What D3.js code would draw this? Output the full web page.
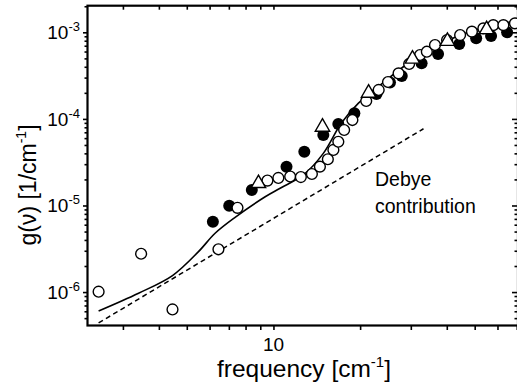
<!DOCTYPE html>
<html><head><meta charset="utf-8">
<script src="https://cdn.jsdelivr.net/npm/d3@7"></script>
<style>body{margin:0;background:#fff}svg{display:block}text{font-family:"Liberation Sans",Arial,sans-serif;fill:#000}</style>
</head><body>
<script>
// open circles
const openX = [2.47,3.47,4.46,6.44,7.50,9.53,10.4,11.43,12.45,13.6,14.5,15.45,16.15,16.8,17.6,18.8,21.0,23.2,25.0,27.2,29.6,32.3,34.1,36.4,40.1,44.5,48.9,53.6,58.0,62.9,69.0];
const openY = [1.01e-6,2.77e-6,6.3e-7,3.12e-6,9.4e-6,1.94e-5,2.08e-5,2.16e-5,2.13e-5,2.31e-5,2.81e-5,3.42e-5,4.38e-5,5.45e-5,7.44e-5,9.7e-5,1.61e-4,2.16e-4,2.67e-4,3.36e-4,4.31e-4,5.47e-4,5.97e-4,7.13e-4,8.15e-4,9.3e-4,1.02e-3,1.11e-3,1.21e-3,1.21e-3,1.27e-3];
// filled circles
const filledX = [6.16,7.02,8.41,11.1,12.8,14.9,16.8,19.1,22.8,25.4,27.9,32.7,37.3,44.2,50.6,57.0,64.8];
const filledY = [6.5e-6,9.95e-6,1.51e-5,2.81e-5,4.18e-5,6.52e-5,8.73e-5,1.16e-4,1.94e-4,2.63e-4,3.13e-4,4.39e-4,5.61e-4,7.33e-4,8.53e-4,9.06e-4,1.0e-3];
// open triangles
const triX = [8.87,14.8,21.4,30.4,40.2,55.0];
const triY = [1.8e-5,8.06e-5,1.99e-4,4.92e-4,7.9e-4,1.08e-3];
// model curve (solid)
const fitX = [2.47,3.40,4.46,5.49,6.27,7.36,9.36,10.55,12.7,14.9,17.2,19.7,23.1,29.4,38.3,50.0,67.0];
const fitY = [6.05e-7,9.7e-7,1.55e-6,2.93e-6,4.78e-6,7.3e-6,1.26e-5,1.58e-5,2.25e-5,4.0e-5,8.9e-5,1.51e-4,2.35e-4,4.39e-4,7.46e-4,1.06e-3,1.32e-3];
// Debye contribution (dashed)
const debyeX = [2.47,33.2];
const debyeY = [4.4e-7,7.7e-5];
const xTickLabels = [10];
const yTickExps = [-3,-4,-5,-6];

const W=517,H=384;
const L=87.5,R=518,T=5.7,B=325.5;
const svg=d3.select("body").append("svg").attr("width",W).attr("height",H);
const x=d3.scaleLog().domain([2.26,70.7]).range([L,R]);
const y=d3.scaleLog().domain([4.11e-7,2.03e-3]).range([B,T]);

const xt=[];for(let k=0;k<=1;k++)for(let m=1;m<=9;m++){const v=m*Math.pow(10,k);if(v>=2.26&&v<=70.7)xt.push(v);}
const yt=[];for(let k=-7;k<=-3;k++)for(let m=1;m<=9;m++){const v=m*Math.pow(10,k);if(v>=4.11e-7&&v<=2.03e-3)yt.push(v);}
const isMajor=v=>Math.abs(Math.log10(v)-Math.round(Math.log10(v)))<1e-9;

const g=svg.append("g");
g.append("g").attr("transform",`translate(0,${B})`).call(d3.axisBottom(x).tickValues(xt).tickFormat("").tickSize(4.5).tickSizeOuter(0))
 .call(a=>{a.select(".domain").remove();a.selectAll("line").attr("stroke-width",1.6);});
g.append("g").attr("transform",`translate(0,${T})`).call(d3.axisBottom(x).tickValues(xt).tickFormat("").tickSize(4).tickSizeOuter(0))
 .call(a=>{a.select(".domain").remove();a.selectAll("line").attr("stroke-width",1.6);});
g.append("g").attr("transform",`translate(${L},0)`).call(d3.axisLeft(y).tickValues(yt).tickFormat("").tickSize(3).tickSizeOuter(0))
 .call(a=>{a.select(".domain").remove();a.selectAll(".tick line").attr("stroke-width",1.6).attr("x2",d=>isMajor(d)?-4.5:-3);});
g.append("g").attr("transform",`translate(${R},0)`).call(d3.axisLeft(y).tickValues(yt).tickFormat("").tickSize(4).tickSizeOuter(0))
 .call(a=>{a.select(".domain").remove();a.selectAll(".tick line").attr("stroke-width",1.6).attr("x2",d=>isMajor(d)?-6:-3.5);});
svg.append("rect").attr("x",L).attr("y",T).attr("width",R-L).attr("height",B-T).attr("fill","none").attr("stroke","#000").attr("stroke-width",2.2);

svg.selectAll(".xl").data(xTickLabels).enter().append("text").attr("x",d=>x(d)).attr("y",351).attr("text-anchor","middle").attr("font-size",19).text(d=>d);
const yl=svg.selectAll(".yl").data(yTickExps).enter().append("text").attr("x",80).attr("y",d=>y(Math.pow(10,d))+7).attr("text-anchor","end").attr("font-size",19);
yl.append("tspan").text("10");
yl.append("tspan").attr("font-size",13).attr("dy",-8).text(d=>d);

const xlab=svg.append("text").attr("x",304).attr("y",377).attr("text-anchor","middle").attr("font-size",24.5);
xlab.append("tspan").text("frequency [cm");
xlab.append("tspan").attr("font-size",15).attr("dy",-10).text("-1");
xlab.append("tspan").attr("dy",10).text("]");
const ylab=svg.append("text").attr("transform","translate(36,185) rotate(-90)").attr("text-anchor","middle").attr("font-size",23);
ylab.append("tspan").text("g(ν) [1/cm");
ylab.append("tspan").attr("font-size",14).attr("dy",-10).text("-1");
ylab.append("tspan").attr("dy",10).text("]");

svg.append("text").attr("x",375).attr("y",186).attr("font-size",19.5).text("Debye");
svg.append("text").attr("x",375).attr("y",213).attr("font-size",19.5).text("contribution");

const plot=svg.append("g");
const line=d3.line().x(d=>x(d[0])).y(d=>y(d[1]));
plot.append("path").datum(debyeX.map((v,i)=>[v,debyeY[i]])).attr("d",line).attr("fill","none").attr("stroke","#000").attr("stroke-width",1.5).attr("stroke-dasharray","5,3.5");
plot.append("path").datum(fitX.map((v,i)=>[v,fitY[i]])).attr("d",line.curve(d3.curveCatmullRom.alpha(0.5))).attr("fill","none").attr("stroke","#000").attr("stroke-width",1.6);

plot.selectAll(".f").data(filledX.map((v,i)=>[v,filledY[i]])).enter().append("circle").attr("cx",d=>x(d[0])).attr("cy",d=>y(d[1])).attr("r",6).attr("fill","#000");
plot.selectAll(".o").data(openX.map((v,i)=>[v,openY[i]])).enter().append("circle").attr("cx",d=>x(d[0])).attr("cy",d=>y(d[1])).attr("r",5.4).attr("fill","#fff").attr("stroke","#000").attr("stroke-width",1.4);
const tri=d3.symbol().type(d3.symbolTriangle).size(90);
plot.selectAll(".t").data(triX.map((v,i)=>[v,triY[i]])).enter().append("path").attr("d",tri).attr("transform",d=>`translate(${x(d[0])},${y(d[1])})`).attr("fill","#fff").attr("stroke","#000").attr("stroke-width",1.4);
</script>
</body></html>
